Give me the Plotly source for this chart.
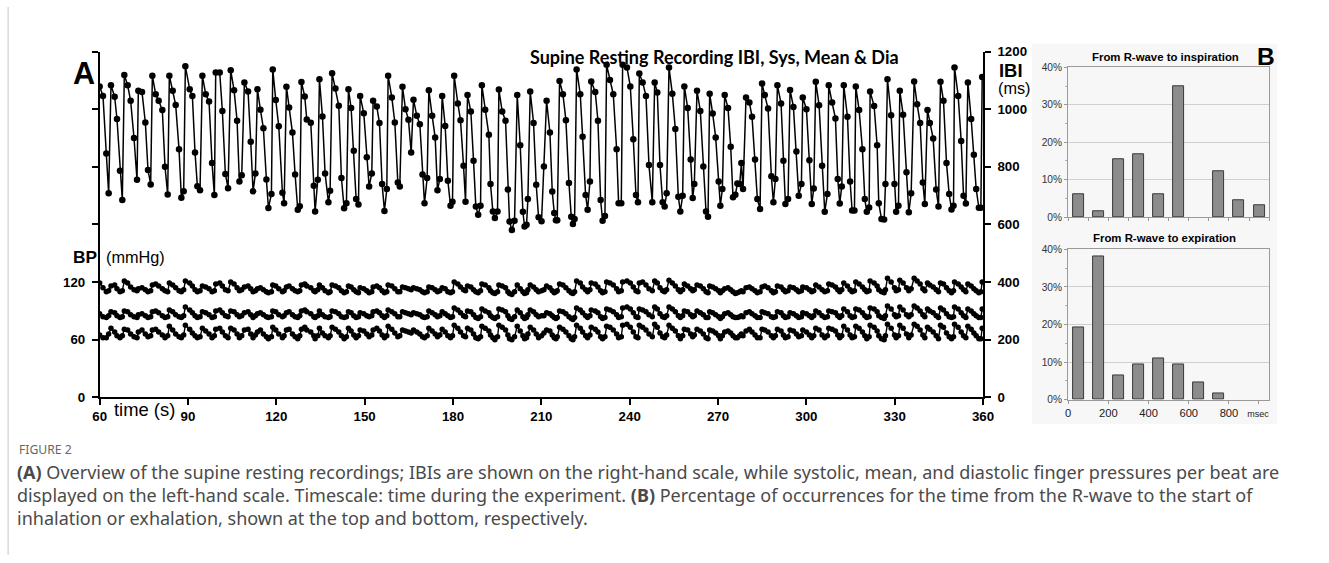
import plotly.graph_objects as go

# ---------------- Panel A data (per beat) ----------------
beat_time_s = [
    60.00, 61.13, 62.26, 63.06, 63.85, 65.10, 65.89, 66.91, 67.70, 68.38, 69.51, 70.53, 71.67, 72.69, 73.14, 74.38,
    75.52, 76.42, 77.33, 77.90, 79.03, 80.05, 81.29, 82.20, 83.11, 83.67, 84.81, 85.82, 86.96, 87.75, 88.54, 89.11,
    90.58, 91.49, 92.39, 93.19, 94.09, 94.89, 96.02, 97.15, 98.17, 98.96, 99.42, 100.78, 101.68, 102.70, 103.61,
    104.51, 105.65, 106.67, 107.46, 108.25, 109.16, 110.40, 111.31, 112.10, 112.90, 113.58, 114.60, 115.61, 116.63,
    117.31, 118.34, 118.79, 119.81, 120.83, 122.07, 122.64, 123.43, 124.34, 125.47, 126.38, 127.28, 127.96, 128.53,
    129.66, 130.34, 131.70, 132.72, 133.17, 134.08, 134.64,
    135.66, 136.56, 137.69, 138.26, 138.94, 140.07, 141.21, 142.11, 143.02, 143.81, 144.49, 145.40, 146.30, 147.10,
    147.89, 148.46, 149.70, 150.72, 151.51, 152.42, 152.87, 154.12, 155.03, 155.93, 156.72, 157.52,
    157.97, 159.22, 160.24, 161.26, 161.93, 162.84, 163.86, 164.88, 165.79, 166.58, 167.71, 168.73, 169.64, 170.32,
    171.22, 171.79, 172.92, 173.94, 174.73, 175.53, 176.32, 177.34, 178.25, 179.15, 179.83, 180.40,
    181.64, 182.55, 183.57, 184.25, 184.93, 186.06, 186.97, 187.76, 188.55, 189.35, 189.80, 190.93, 192.18, 192.74,
    193.54, 194.22, 195.12, 195.58, 196.71, 197.84, 198.64, 199.20, 199.99, 200.90, 201.81, 202.83,
    203.73, 204.30, 204.98, 205.43, 206.22, 207.36, 208.26, 209.06, 210.07,
    210.87, 211.78, 212.91, 213.70, 214.38, 214.95, 215.40, 216.19, 217.33, 218.34,
    219.37, 220.16, 220.72, 221.29, 221.97, 223.22, 224.01, 225.03, 225.71, 226.50,
    226.95, 228.31, 229.22, 230.13, 230.80, 231.60, 232.16, 233.30, 234.43, 235.56,
    236.24, 237.15, 237.60, 239.07, 240.21, 241.23, 242.13, 242.81, 243.27, 244.40,
    245.53, 246.55, 247.68, 248.48, 249.38, 250.29, 251.19, 251.87, 252.55, 253.35,
    254.48, 255.50, 256.52, 257.20, 257.99, 258.56, 259.69, 260.71, 261.39, 261.95,
    262.86, 263.99, 265.01, 265.92, 266.60, 267.16, 268.18, 269.20, 270.22, 270.79,
    271.47, 272.26, 273.39, 274.30, 275.09, 275.89, 276.57, 277.36, 277.93, 278.49,
    279.51, 280.64, 281.55, 282.57, 283.36, 284.27, 284.95,
    285.86, 286.99, 288.12, 288.80, 289.48, 290.16, 291.41, 292.20, 292.88, 293.78,
    294.46, 295.60, 296.62, 297.41, 298.32, 298.77, 300.02, 301.03, 301.83, 302.51,
    303.19, 304.32, 305.34, 306.24, 307.15, 307.60, 308.74, 309.87, 310.66, 311.34,
    312.02, 312.70, 313.95, 314.85, 315.53, 316.33, 316.78, 317.91, 319.04, 319.84,
    320.52, 321.31, 321.65, 323.01, 324.03, 324.59, 325.50, 326.41, 326.86, 327.54,
    328.79, 329.92, 330.49, 331.28, 331.73, 332.86, 334.00, 334.79, 335.58, 336.60,
    337.62, 338.64, 339.55, 340.23, 341.13, 341.92, 343.06, 344.08, 344.87, 345.55,
    346.57, 347.59, 348.49, 349.29, 349.97, 350.31, 351.55, 352.57, 353.37, 354.16,
    354.84, 355.97, 356.88, 357.67, 358.58, 359.26, 359.71,
]

ibi_ms = [
    1079, 1046, 846, 708, 1083, 1043, 966, 786, 685, 1119, 1083, 1029, 900, 755, 1064, 1060, 954, 789, 739,
    1116, 1052, 1029, 997, 800, 704, 1116, 1064, 1015, 861, 693, 715, 1149, 1069, 1046, 850, 733, 719,
    1116, 1052, 1027, 813, 702, 1127, 1127, 994, 775, 726, 1135, 1066, 960, 749, 771, 1093, 1061, 887, 715, 777,
    1069, 998, 934, 756, 657, 706, 1138, 1032, 941, 710, 674, 1078, 1006, 919, 773, 651, 663,
    1094, 1044, 964, 953, 734, 645, 755, 1104,
    975, 777, 677, 717, 1125, 1072, 1012, 761, 656, 674, 1069, 1004, 856, 688, 669, 1046, 986, 833, 732, 777,
    1029, 1009, 952, 740, 647, 723,
    1116, 1041, 954, 746, 732, 1078, 1000, 963, 850, 1033, 977, 948, 773, 674, 761, 1066, 977, 902, 719, 758,
    1046, 942, 752, 665, 679, 1116,
    1020, 962, 804, 679, 1049, 992, 821, 662, 634, 665, 1083, 998, 911, 740, 645, 622, 645, 1068, 992, 960,
    721, 610, 581, 613, 1049, 875,
    644, 593, 599, 688, 1061, 952, 738, 625, 611,
    801, 1029, 919, 714, 640, 615, 615, 1098, 1052, 962,
    744, 627, 602, 619, 1138, 1052, 904, 702, 651, 749,
    1096, 1060, 960, 685, 613, 629, 1154, 1101, 1052, 861,
    674, 674, 1154, 1145, 1079, 896, 702, 677, 1124, 1093,
    1046, 806, 677, 1093, 1058, 806, 677, 662, 708, 1145,
    1054, 931, 696, 645, 700, 1079, 1004, 825, 692, 740,
    1064, 994, 801, 645, 627, 1054, 985, 902, 749, 665,
    723, 1049, 1004, 870, 694, 703, 742, 740, 813, 723,
    1041, 1023, 974, 825, 688, 654, 1089,
    1049, 1002, 767, 677, 758, 1083, 1020, 821, 671, 688,
    1067, 1008, 853, 700, 740, 1041, 1000, 823, 671, 725,
    1095, 1014, 804, 644, 706, 1083, 1023, 968, 758, 673,
    732, 1083, 974, 749, 648, 648, 1079, 997, 861, 688,
    644, 659, 1061, 1011, 875, 674, 619, 617, 740, 1104,
    979, 740, 644, 665, 1064, 981, 781, 642, 708, 1096,
    1017, 952, 746, 671, 997, 952, 898, 721, 662, 1095,
    1029, 813, 706, 652, 665, 1145, 1046, 890, 700, 673,
    1093, 966, 842, 723, 658, 658, 1112,
]

sys_mmhg = [
    119, 114, 110, 111, 116, 117, 113, 110, 111, 121, 119, 115, 112, 111, 113, 114, 112, 110, 111,
    117, 118, 116, 113, 111, 110, 119, 117, 114, 111, 110, 112, 121, 119, 116, 112, 110, 111,
    116, 115, 113, 110, 111, 118, 119, 116, 112, 111, 120, 118, 114, 111, 112, 115, 116, 113, 110, 111,
    113, 114, 112, 110, 109, 110, 117, 116, 113, 110, 111, 115, 116, 113, 111, 110, 111,
    117, 118, 116, 114, 111, 110, 112, 117,
    114, 111, 109, 110, 117, 116, 114, 111, 109, 110, 116, 115, 112, 110, 109, 114, 113, 111, 109, 110,
    115, 116, 114, 111, 109, 110, 117, 116, 113, 110, 110,
    115, 114, 113, 112, 114, 113, 112, 110, 109, 110, 115, 114, 112, 110, 111, 114, 113, 110, 109, 110,
    120, 118, 115, 112, 111, 116, 115, 112, 110, 109, 111, 118, 117, 114, 111, 109, 108, 110,
    117, 116, 114, 110, 108, 107, 110, 117, 113, 110, 108, 109, 112, 117, 115, 112, 110, 111,
    112, 116, 114, 111, 109, 110, 111, 118, 117, 114, 111, 109, 108, 110,
    121, 119, 115, 112, 110, 112, 119, 118, 115, 111, 109, 110, 120, 119, 117, 113, 110, 111,
    120, 121, 119, 115, 111, 110, 119, 120, 117, 113, 111, 121, 119, 114, 111, 110, 112,
    122, 119, 116, 112, 110, 112, 118, 116, 113, 111, 112, 117, 116, 113, 110, 109,
    116, 115, 113, 111, 109, 111, 113, 114, 112, 110, 108, 109, 110, 111, 110,
    114, 115, 113, 111, 109, 110, 115,
    116, 114, 111, 109, 110, 116, 115, 112, 110, 111, 115, 114, 112, 110, 111, 115, 114, 112, 110, 111,
    117, 115, 112, 110, 111, 118, 117, 115, 112, 110, 112, 119, 116, 112, 110, 111,
    120, 118, 115, 112, 110, 111, 121, 119, 116, 112, 110, 109, 112, 124, 120, 114, 111, 112,
    122, 119, 114, 111, 113, 124, 121, 118, 113, 111, 119, 117, 115, 112, 110,
    119, 118, 114, 111, 109, 111, 120, 118, 115, 112, 110, 118, 116, 113, 111, 109, 110, 120,
]

mean_mmhg = [
    87, 84, 83, 85, 89, 88, 85, 83, 84, 90, 89, 86, 84, 83, 86, 87, 85, 83, 84,
    89, 90, 88, 85, 83, 84, 91, 89, 86, 84, 83, 85, 94, 91, 88, 85, 83, 84,
    89, 88, 86, 83, 84, 90, 91, 88, 85, 84, 90, 89, 86, 84, 85, 88, 89, 86, 83, 85,
    87, 88, 86, 84, 83, 84, 90, 89, 86, 84, 85, 88, 89, 86, 84, 83, 85,
    90, 91, 89, 87, 84, 83, 85, 90,
    86, 84, 83, 84, 90, 89, 87, 84, 83, 84, 89, 88, 85, 83, 84, 88, 87, 85, 84, 85,
    89, 90, 88, 85, 83, 85, 91, 89, 87, 84, 84,
    89, 88, 87, 86, 88, 87, 86, 84, 83, 84, 90, 88, 86, 84, 85, 89, 87, 85, 83, 84,
    93, 91, 88, 85, 84, 90, 89, 86, 83, 82, 84, 92, 90, 88, 85, 83, 82, 84,
    92, 91, 89, 85, 82, 81, 84, 91, 88, 84, 82, 83, 86, 91, 89, 86, 84, 85,
    85, 88, 87, 85, 83, 82, 83, 90, 89, 87, 84, 82, 81, 83,
    93, 91, 88, 85, 83, 85, 91, 90, 88, 84, 82, 83, 92, 91, 89, 86, 83, 84,
    93, 94, 92, 88, 84, 83, 92, 91, 89, 86, 84, 94, 92, 87, 84, 83, 85,
    94, 92, 89, 85, 83, 85, 90, 89, 86, 84, 85, 90, 88, 86, 83, 83,
    89, 88, 86, 84, 82, 84, 87, 88, 86, 84, 83, 83, 84, 85, 84,
    88, 89, 87, 85, 83, 83, 89,
    88, 87, 84, 83, 84, 89, 88, 85, 83, 84, 88, 87, 85, 83, 84, 88, 87, 85, 83, 85,
    90, 88, 85, 83, 84, 90, 89, 88, 85, 83, 85, 92, 89, 85, 83, 84,
    92, 91, 88, 85, 83, 84, 93, 92, 89, 85, 83, 82, 85, 95, 92, 86, 84, 85,
    94, 91, 86, 84, 86, 95, 93, 90, 86, 84, 92, 90, 88, 85, 83,
    93, 91, 87, 84, 83, 84, 94, 92, 88, 85, 83, 92, 90, 87, 85, 83, 83, 92,
]

dia_mmhg = [
    65, 62, 62, 66, 72, 68, 64, 62, 64, 71, 70, 66, 63, 62, 68, 70, 66, 63, 64,
    70, 71, 68, 65, 62, 64, 74, 70, 66, 63, 62, 65, 75, 71, 67, 64, 62, 63,
    72, 69, 66, 62, 64, 71, 72, 68, 64, 62, 72, 70, 66, 62, 64, 70, 71, 66, 62, 65,
    68, 70, 66, 63, 61, 63, 73, 70, 66, 62, 64, 70, 71, 66, 63, 61, 64,
    71, 73, 70, 68, 64, 61, 64, 72,
    67, 64, 62, 64, 73, 71, 68, 64, 61, 63, 72, 69, 65, 62, 64, 70, 69, 66, 63, 65,
    70, 72, 69, 65, 62, 64, 74, 71, 67, 63, 64,
    70, 69, 68, 67, 70, 68, 66, 63, 62, 64, 72, 69, 66, 63, 65, 71, 68, 64, 62, 64,
    75, 72, 68, 64, 63, 72, 70, 66, 62, 61, 63, 74, 72, 69, 65, 62, 60, 63,
    75, 73, 70, 65, 61, 60, 63, 74, 69, 64, 61, 62, 66, 73, 70, 66, 62, 64,
    67, 70, 69, 65, 62, 61, 63, 73, 71, 68, 64, 61, 60, 63,
    75, 72, 68, 64, 62, 65, 73, 71, 68, 63, 61, 63, 74, 73, 70, 66, 62, 63,
    75, 76, 73, 68, 63, 62, 75, 73, 70, 66, 63, 76, 73, 67, 63, 62, 65,
    75, 72, 69, 64, 61, 64, 71, 70, 66, 63, 65, 71, 69, 66, 62, 61,
    70, 69, 67, 64, 61, 64, 68, 69, 67, 64, 62, 62, 64, 66, 64,
    69, 71, 68, 65, 62, 62, 71,
    70, 68, 64, 62, 64, 71, 69, 65, 62, 63, 70, 69, 66, 63, 64, 70, 68, 65, 62, 64,
    72, 70, 65, 62, 64, 72, 71, 69, 65, 62, 64, 74, 70, 65, 62, 63,
    74, 72, 68, 64, 61, 63, 75, 73, 69, 64, 61, 60, 64, 76, 72, 65, 62, 64,
    75, 72, 66, 62, 65, 76, 74, 70, 65, 62, 73, 71, 68, 64, 61,
    75, 73, 67, 63, 61, 63, 76, 73, 68, 64, 62, 74, 71, 67, 64, 61, 61, 72,
]

x_ticks_s = [60, 90, 120, 150, 180, 210, 240, 270, 300, 330, 360]
bp_tickvals = [0, 60, 120, 180, 240, 300, 360]
bp_ticktext = ["0", "60", "120", "", "", "", ""]
ibi_tickvals = [0, 200, 400, 600, 800, 1000, 1200]

# ---------------- Panel B data ----------------
bin_center_ms = [50, 150, 250, 350, 450, 550, 650, 750, 850, 950]
insp_pct = [6.2, 1.6, 15.4, 16.8, 6.2, 34.8, 0, 12.3, 4.6, 3.2]
exp_pct = [19.2, 38.1, 6.5, 9.4, 11.1, 9.4, 4.7, 1.6, 0, 0]
pct_tickvals = [0, 10, 20, 30, 40]
pct_ticktext = ["0%", "10%", "20%", "30%", "40%"]
hist_tickvals = [0, 200, 400, 600, 800, 945]
hist_ticktext = ["0", "200", "400", "600", "800", "<span style='font-size:9px'>msec</span>"]

n = min(len(beat_time_s), len(ibi_ms), len(sys_mmhg), len(mean_mmhg), len(dia_mmhg))

# Layout positions are given in reference-picture pixels and mapped to page pixels
# (the photographed page comes out slightly scaled and offset).
W, H = 1329, 563
SX, AX = 0.986, 7.4
SY, AY = 0.974, 7.4
FS = 1.02  # font compensation for the slight downscale
def fx(p):
    return ((p - AX) / SX) / W
def fy(p):
    return 1 - ((p - AY) / SY) / H
def fs(s):
    return round(s * FS, 1)

ARIAL = "Liberation Sans, Arial, sans-serif"

fig = go.Figure()
for series in (sys_mmhg, mean_mmhg, dia_mmhg):
    fig.add_trace(go.Scatter(
        x=beat_time_s[:n], y=series[:n], mode="lines+markers",
        line=dict(color="black", width=1.4), marker=dict(size=5.5, color="black"),
        xaxis="x", yaxis="y", showlegend=False, hoverinfo="skip"))
fig.add_trace(go.Scatter(
    x=beat_time_s[:n], y=ibi_ms[:n], mode="lines+markers",
    line=dict(color="black", width=1.5), marker=dict(size=6.5, color="black"),
    xaxis="x", yaxis="y4", showlegend=False))

def bar_style(vals):
    return dict(color="#8c8c8c",
                line=dict(color="#3a3a3a", width=[1 if v > 0 else 0 for v in vals]))

fig.add_trace(go.Bar(x=bin_center_ms, y=insp_pct, width=55, marker=bar_style(insp_pct),
                     xaxis="x2", yaxis="y2", showlegend=False))
fig.add_trace(go.Bar(x=bin_center_ms, y=exp_pct, width=55, marker=bar_style(exp_pct),
                     xaxis="x3", yaxis="y3", showlegend=False))

axA = dict(showline=True, linecolor="black", linewidth=1.5, ticks="outside", ticklen=6,
           tickcolor="black", tickwidth=1.5, showgrid=False, zeroline=False,
           tickfont=dict(family=ARIAL, size=fs(13), color="black", weight="bold"))

hist_x = dict(range=[0, 1000], showline=True, mirror=True, linecolor="#9a9a9a", linewidth=1,
              ticks="outside", tickvals=[0, 100, 200, 300, 400, 500, 600, 700, 800, 900, 1000],
              ticklen=3, tickcolor="#9a9a9a", showgrid=False, zeroline=False,
              showticklabels=False)
hist_y = dict(range=[0, 40], tickvals=pct_tickvals, ticktext=pct_ticktext, showline=True, mirror=True,
              linecolor="#9a9a9a", linewidth=1, ticks="outside", ticklen=3, tickcolor="#9a9a9a",
              showgrid=True, gridcolor="#cfcfcf", gridwidth=1, zeroline=False,
              minor=dict(ticks="outside", dtick=5, ticklen=2, tickcolor="#b0b0b0", showgrid=False),
              tickfont=dict(family=ARIAL, size=fs(10), color="#333333"))

fig.update_layout(
    width=W, height=H, margin=dict(l=0, r=0, t=0, b=0),
    paper_bgcolor="white", plot_bgcolor="rgba(0,0,0,0)",
    bargap=0,
    xaxis=dict(domain=[fx(100), fx(983)], range=[60, 360], tickvals=x_ticks_s, anchor="y", **axA),
    yaxis=dict(domain=[fy(398), fy(52)], range=[0, 360], tickvals=bp_tickvals, ticktext=bp_ticktext,
               anchor="x", ticklabelstandoff=4, **axA),
    yaxis4=dict(overlaying="y", side="right", anchor="x", range=[0, 1200], tickvals=ibi_tickvals,
                ticklabelstandoff=4, **axA),
    xaxis2=dict(domain=[fx(1068), fx(1269)], anchor="y2", **hist_x),
    yaxis2=dict(domain=[fy(217.7), fy(67.7)], anchor="x2", **hist_y),
    xaxis3=dict(domain=[fx(1068), fx(1269)], anchor="y3",
                **{**hist_x, "showticklabels": True, "tickvals": hist_tickvals, "ticktext": hist_ticktext,
                   "tickfont": dict(family=ARIAL, size=fs(11), color="#222222")}),
    yaxis3=dict(domain=[fy(400.3), fy(250)], anchor="x3", **hist_y),
)

shapes = [
    dict(type="rect", xref="paper", yref="paper", x0=fx(1032), x1=fx(1277), y0=fy(425), y1=fy(44),
         fillcolor="#f7f7f7", line=dict(width=0), layer="below"),
    dict(type="line", xref="paper", yref="paper", x0=fx(8.5), x1=fx(8.5), y0=0, y1=1,
         line=dict(color="#c8c8c8", width=1)),
]
fig.update_layout(shapes=shapes)

def ann(text, x, y, size, bold=False, family=ARIAL, color="black", xanchor="center", yanchor="middle"):
    return dict(text=text, x=fx(x), y=fy(y), xref="paper", yref="paper", showarrow=False,
                xanchor=xanchor, yanchor=yanchor,
                font=dict(family=family, size=fs(size), color=color, weight="bold" if bold else "normal"))

CAP = "Noto Sans, sans-serif"
annotations = [
    ann("A", 84, 73, 30, bold=True),
    ann("Supine Resting Recording IBI, Sys, Mean & Dia", 715, 57, 17.6, bold=True, family="Lato, sans-serif"),
    ann("IBI", 997, 71, 18, bold=True, xanchor="left"),
    ann("(ms)", 996, 88, 16, xanchor="left"),
    ann("BP", 71, 258, 17, bold=True, xanchor="left"),
    ann("(mmHg)", 104, 258, 16, xanchor="left"),
    ann("time (s)", 112, 410, 18, xanchor="left"),
    ann("From R-wave to inspiration", 1165, 57, 11.2, bold=True),
    ann("From R-wave to expiration", 1164, 239, 11.2, bold=True),
    ann("B", 1266, 57, 24, bold=True),
    ann("FIGURE 2", 17, 450, 12, family=CAP, color="#666666", xanchor="left"),
    ann("<b>(A)</b> Overview of the supine resting recordings; IBIs are shown on the right-hand scale, while "
        "systolic, mean, and diastolic finger pressures per beat are", 15, 473, 17.6, family=CAP,
        color="#4a4a4a", xanchor="left"),
    ann("displayed on the left-hand scale. Timescale: time during the experiment. <b>(B)</b> Percentage of "
        "occurrences for the time from the R-wave to the start of", 15, 496, 17.6, family=CAP,
        color="#4a4a4a", xanchor="left"),
    ann("inhalation or exhalation, shown at the top and bottom, respectively.", 15, 519, 17.6, family=CAP,
        color="#4a4a4a", xanchor="left"),
]
fig.update_layout(annotations=annotations)

fig.write_html(
    "out.html",
    config={"displayModeBar": False},
    post_script="document.body.style.margin='0px';document.body.style.padding='0px';"
                "document.documentElement.style.overflow='hidden';",
)
